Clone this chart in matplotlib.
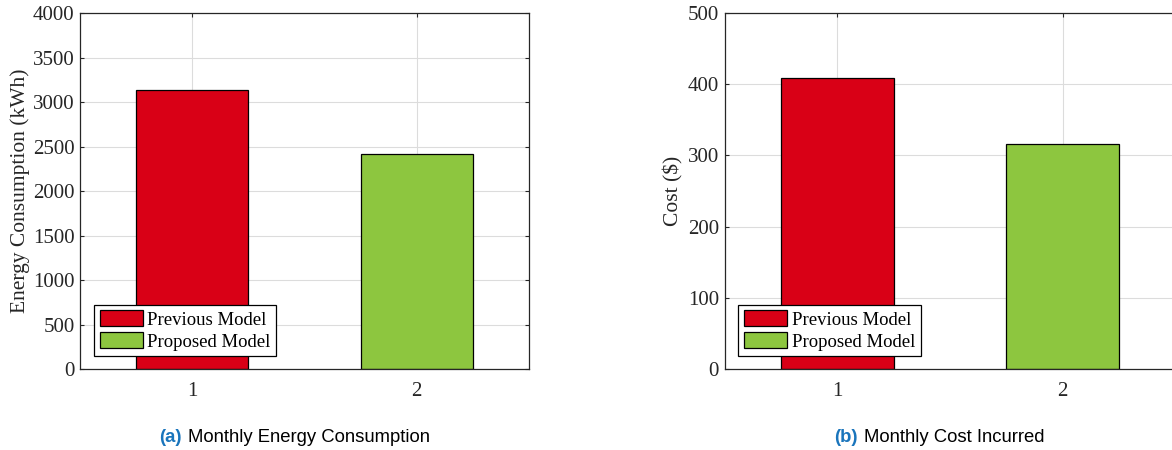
import matplotlib
matplotlib.use("Agg")
import matplotlib.pyplot as plt

# data
positions = [1, 2]
models = ["Previous Model", "Proposed Model"]
energy_kwh = [3140, 2420]
cost_usd = [409, 316]
bar_colors = ["#D90016", "#8DC63F"]

energy_ticks = [0, 500, 1000, 1500, 2000, 2500, 3000, 3500, 4000]
cost_ticks = [0, 100, 200, 300, 400, 500]

captions = [("(a)", "Monthly Energy Consumption"), ("(b)", "Monthly Cost Incurred")]

SERIF = ["Liberation Serif", "DejaVu Serif"]
SANS = ["Liberation Sans", "DejaVu Sans"]
AX_COLOR = "#262626"


def style_axes(ax, yticks, ylabel, labelpad):
    ax.set_xlim(0.5, 2.5)
    ax.set_ylim(yticks[0], yticks[-1])
    ax.set_xticks(positions)
    ax.set_yticks(yticks)
    ax.grid(True, color="#dcdcdc", linewidth=0.8)
    ax.set_axisbelow(True)
    ax.tick_params(direction="in", length=3, width=0.8, top=True, right=True,
                   colors=AX_COLOR, labelsize=15)
    ax.tick_params(axis="x", pad=9)
    ax.tick_params(axis="y", pad=4)
    for lab in ax.get_xticklabels() + ax.get_yticklabels():
        lab.set_family(SERIF)
    for sp in ax.spines.values():
        sp.set_color(AX_COLOR)
        sp.set_linewidth(0.9)
    ax.set_ylabel(ylabel, fontsize=15.5, family=SERIF, color=AX_COLOR, labelpad=labelpad)


def draw_bars(ax, values):
    for pos, val, col, name in zip(positions, values, bar_colors, models):
        ax.bar(pos, val, width=0.5, color=col, edgecolor="black", linewidth=0.9, label=name)
    leg = ax.legend(loc="lower left", bbox_to_anchor=(0.031, 0.036), borderaxespad=0,
                    prop={"family": SERIF, "size": 13.5}, fancybox=False, framealpha=1,
                    edgecolor="black", handlelength=2.3, handleheight=0.9,
                    labelspacing=0.2, handletextpad=0.25, borderpad=0.3)
    leg.get_frame().set_linewidth(0.9)
    for txt in leg.get_texts():
        txt.set_color("black")


fig = plt.figure(figsize=(11.72, 4.5), dpi=100)
ax1 = fig.add_axes([80 / 1172, 81 / 450, 449 / 1172, 356 / 450])
ax2 = fig.add_axes([724.5 / 1172, 81 / 450, 451 / 1172, 356 / 450])

draw_bars(ax1, energy_kwh)
draw_bars(ax2, cost_usd)
style_axes(ax1, energy_ticks, "Energy Consumption (kWh)", 2)
style_axes(ax2, cost_ticks, "Cost ($)", 3)

# captions: bold blue tag followed by plain text
fig.canvas.draw()
renderer = fig.canvas.get_renderer()
for (tag, text), x_left in zip(captions, [159, 834]):
    t = fig.text(x_left / 1172, 8 / 450, tag, fontsize=13.3, family=SANS,
                 fontweight="bold", color="#1a75bc", va="baseline", ha="left")
    bb = t.get_window_extent(renderer)
    fig.text((bb.x1 + 7) / 1172, 8 / 450, text, fontsize=13.3, family=SANS,
             color="black", va="baseline", ha="left")

fig.savefig("out.png", dpi=100)
